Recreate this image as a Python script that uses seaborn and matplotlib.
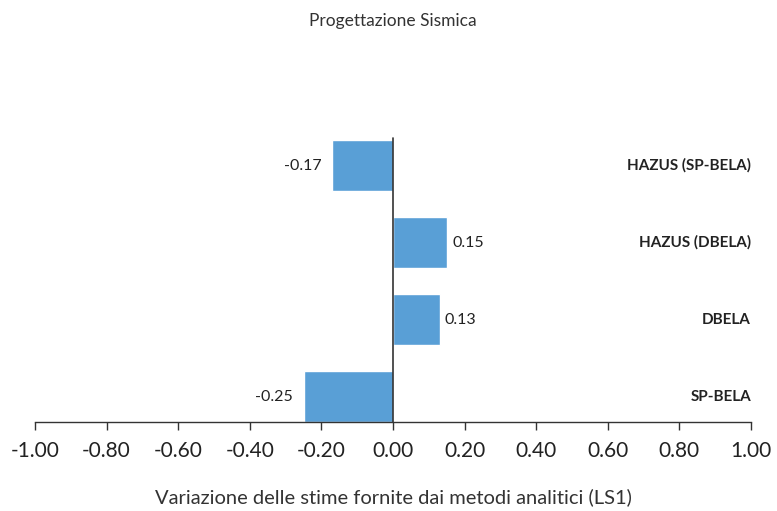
import matplotlib
matplotlib.use("Agg")
import matplotlib.pyplot as plt
import seaborn as sns
import pandas as pd

categories = ["HAZUS (SP-BELA)", "HAZUS (DBELA)", "DBELA", "SP-BELA"]
values = [-0.17, 0.15, 0.13, -0.25]
tick_values = [-1.0, -0.8, -0.6, -0.4, -0.2, 0.0, 0.2, 0.4, 0.6, 0.8, 1.0]
tick_labels = ["-1.00", "-0.80", "-0.60", "-0.40", "-0.20", "0.00", "0.20", "0.40", "0.60", "0.80", "1.00"]

sns.set_style("white")
plt.rcParams['font.family'] = ['Lato', 'DejaVu Sans']

df = pd.DataFrame({"cat": categories, "val": values})

fig = plt.figure(figsize=(7.77, 5.11), dpi=100)
ax = fig.add_axes([35/777, 1 - 422/511, (751-35)/777, (422-127)/511])

sns.barplot(data=df, x="val", y="cat", orient="h", color="#599FD6",
            saturation=1, width=0.66, ax=ax)

ax.set_xlim(-1.0, 1.0)
ax.set_ylim(3.33, -0.5)
ax.axvline(0, color="#333333", lw=1.2, ymin=0, ymax=(3.33 + 0.36) / 3.83)

for i, v in enumerate(values):
    if v < 0:
        ax.text(v - 0.03, i, f"{v:.2f}", ha="right", va="center", fontsize=11.5, color="#222222")
    else:
        ax.text(v + 0.015, i, f"{v:.2f}", ha="left", va="center", fontsize=11.5, color="#222222")
    ax.text(1.0, i, categories[i], ha="right", va="center", fontsize=11,
            fontweight="bold", color="#222222")

ax.set_yticks([])
ax.set_ylabel("")
ax.set_xticks(tick_values)
ax.set_xticklabels(tick_labels, fontsize=15, color="#222222")
ax.tick_params(axis="x", bottom=True, direction="out", length=6, width=1, color="#333333", pad=8)
for s in ["top", "right", "left"]:
    ax.spines[s].set_visible(False)
ax.spines["bottom"].set_color("#333333")
ax.spines["bottom"].set_linewidth(1)

ax.set_xlabel("Variazione delle stime fornite dai metodi analitici (LS1)", fontsize=14.5,
              color="#333333", labelpad=19, fontweight="normal")
fig.text(393/777, 1 - 21/511, "Progettazione Sismica", ha="center", va="center",
         fontsize=12.5, color="#333333", fontweight="normal")

fig.savefig("out.png", dpi=100)
